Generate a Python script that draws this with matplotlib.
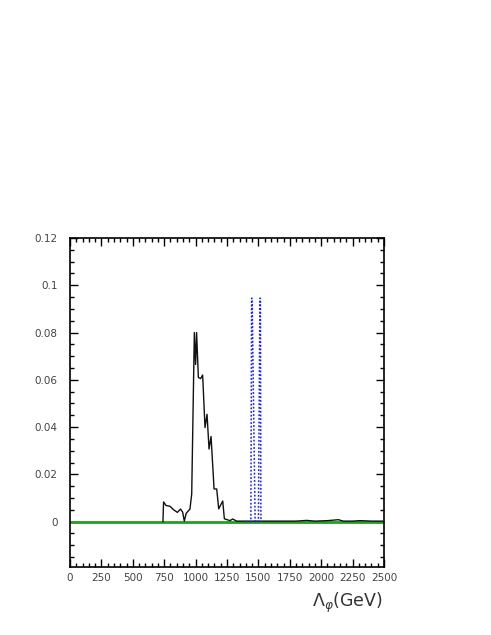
import matplotlib
matplotlib.use("Agg")
import matplotlib.pyplot as plt
from matplotlib.ticker import MultipleLocator, FixedLocator, FixedFormatter

# Black curve
lam = [740, 745, 765, 795, 825, 855, 880, 897, 910, 925, 955, 969, 990, 1000, 1008,
       1022, 1040, 1056, 1075, 1091, 1107, 1123, 1147, 1168, 1184, 1216, 1229, 1274,
       1295, 1327, 1400, 1600, 1800, 1885, 1950, 2050, 2137, 2175, 2250, 2310, 2400, 2500]
sig = [0.0, 0.0083, 0.0068, 0.0065, 0.0050, 0.0039, 0.0053, 0.0040, 0.0002, 0.0035,
       0.0053, 0.0117, 0.0800, 0.0665, 0.0800, 0.0610, 0.0605, 0.0620, 0.0398, 0.0454,
       0.0307, 0.0360, 0.0138, 0.0138, 0.0054, 0.0087, 0.0012, 0.0004, 0.0011, 0.0002,
       0.0002, 0.0002, 0.0002, 0.0005, 0.0002, 0.0004, 0.0008, 0.0002, 0.0002, 0.0004,
       0.0002, 0.0002]

# Blue dotted curve
lam_b = [1400, 1440, 1446, 1450, 1474, 1500, 1512, 1516, 1520]
sig_b = [0.0, 0.0, 0.0945, 0.0945, 0.0, 0.0, 0.0945, 0.0945, 0.0]

# Green line
lam_g = [0, 2500]
sig_g = [0.0, 0.0]

xticks = [0, 250, 500, 750, 1000, 1250, 1500, 1750, 2000, 2250, 2500]
yticks = [0.0, 0.02, 0.04, 0.06, 0.08, 0.1, 0.12]
ylabels = ["0", "0.02", "0.04", "0.06", "0.08", "0.1", "0.12"]

fig = plt.figure(figsize=(4.91, 6.35), dpi=100)
ax = fig.add_axes([70/491, 1-566.5/635, (384-70)/491, (566.5-238)/635])

ax.plot(lam_g, sig_g, color="#1fa01f", lw=2.0, zorder=2)
ax.plot(lam, sig, color="#111111", lw=1.0, zorder=3)
ax.plot(lam_b, sig_b, color="#2020ff", lw=1.1, ls=(0, (1.2, 1.2)), zorder=4)

ax.set_xlim(0, 2500)
ax.set_ylim(-0.019, 0.12)

ax.xaxis.set_major_locator(FixedLocator(xticks))
ax.xaxis.set_minor_locator(MultipleLocator(50))
ax.yaxis.set_major_locator(FixedLocator(yticks))
ax.yaxis.set_major_formatter(FixedFormatter(ylabels))
ax.yaxis.set_minor_locator(MultipleLocator(0.005))
ax.set_xticklabels([str(t) for t in xticks])

ax.tick_params(which="both", direction="in", top=True, right=True, width=1.0,
               color="black", labelsize=7.5, labelcolor="#444444")
ax.tick_params(axis="y", pad=9)
ax.tick_params(axis="x", pad=5)
ax.tick_params(which="major", length=6)
ax.tick_params(which="minor", length=3)
for s in ax.spines.values():
    s.set_linewidth(1.2)

fig.text(383/491, 1-603/635, r"$\Lambda_{\varphi}$(GeV)", ha="right", va="center",
         fontsize=12.5, color="#333333")

fig.savefig("out.png", dpi=100)
